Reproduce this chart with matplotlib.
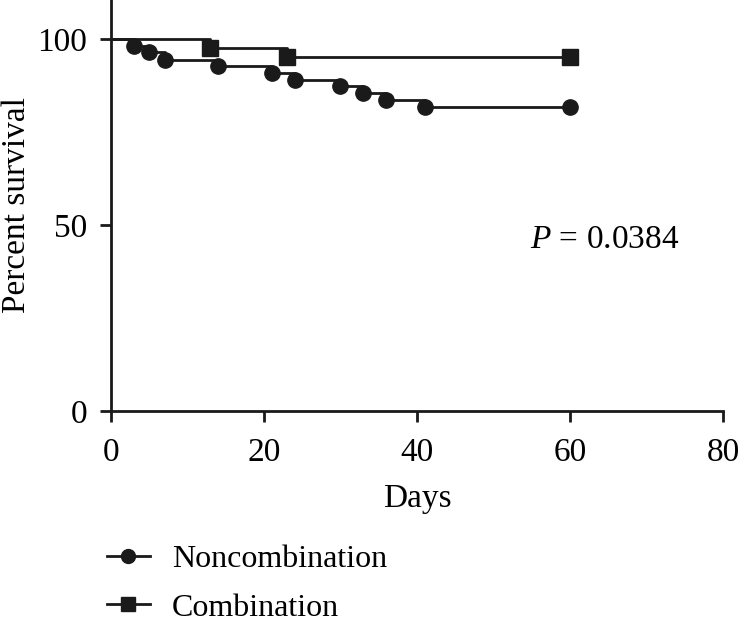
import numpy as np
import matplotlib
matplotlib.use("Agg")
import matplotlib.pyplot as plt

plt.rcParams['font.family'] = ['Liberation Serif', 'DejaVu Serif']
plt.rcParams['mathtext.fontset'] = 'custom'
plt.rcParams['mathtext.it'] = 'Liberation Serif:italic'
plt.rcParams['mathtext.rm'] = 'Liberation Serif'

# Kaplan-Meier event times (days) and survival (%)
noncomb_days = [0, 3, 5, 7, 14, 21, 24, 30, 33, 36, 41, 60]
noncomb_surv = [100, 98.2, 96.4, 94.5, 92.7, 90.9, 89.1, 87.3, 85.5, 83.6, 81.8, 81.8]

comb_days = [0, 13, 23, 60]
comb_surv = [100, 97.6, 95.2, 95.2]

x_ticks = [0, 20, 40, 60, 80]
y_ticks = [0, 50, 100]

fs = 24

fig = plt.figure(figsize=(7.4, 6.26), dpi=100)
ax = fig.add_axes([0.15, 0.3435, 0.827, 0.6565])

ax.step(noncomb_days, noncomb_surv, where='post', color='#1a1a1a', lw=2)
ax.plot(noncomb_days[1:], noncomb_surv[1:], 'o', color='#1a1a1a', ms=11, ls='none')
ax.step(comb_days, comb_surv, where='post', color='#1a1a1a', lw=2)
ax.plot(comb_days[1:], comb_surv[1:], 's', color='#1a1a1a', ms=11, ls='none')

ax.set_xlim(0, 80)
ax.set_ylim(0, 110.5)
ax.set_xticks(x_ticks)
ax.set_yticks(y_ticks)
ax.spines['top'].set_visible(False)
ax.spines['right'].set_visible(False)
for s in ['left', 'bottom']:
    ax.spines[s].set_linewidth(2)
    ax.spines[s].set_color('#1a1a1a')
ax.tick_params(direction='out', length=8, width=2, labelsize=fs, color='#1a1a1a')
ax.tick_params(axis='x', pad=11)
ax.tick_params(axis='y', pad=9)
ax.set_xlabel('Days', fontsize=fs, labelpad=11)
ax.set_ylabel('Percent survival', fontsize=fs, labelpad=4)

ax.text(54.8, 46, r'$P$ = 0.0384', fontsize=fs, ha='left', va='center')

h1 = plt.Line2D([], [], color='#1a1a1a', lw=2, marker='o', ms=10)
h2 = plt.Line2D([], [], color='#1a1a1a', lw=2, marker='s', ms=10)
fig.legend([h1, h2], ['Noncombination', 'Combination'], loc='upper left',
           bbox_to_anchor=(0.144, 0.13), frameon=False, fontsize=23,
           handlelength=1.35, handletextpad=0.7, labelspacing=0.6,
           borderaxespad=0, borderpad=0)

fig.savefig('out.png', dpi=100)
